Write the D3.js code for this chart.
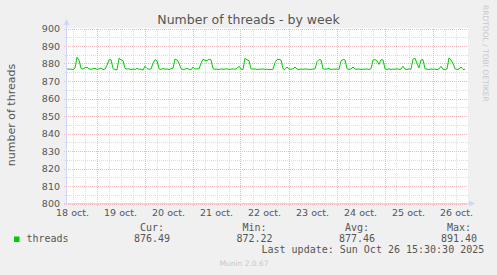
<!DOCTYPE html>
<html>
<head>
<meta charset="utf-8">
<script src="https://cdn.jsdelivr.net/npm/d3@7"></script>
<style>
  body { margin: 0; background: #F0F0F0; }
  svg { display: block; }
  text { font-family: "DejaVu Sans", sans-serif; }
  .mono { font-family: "DejaVu Sans Mono", monospace; }
</style>
</head>
<body>
<svg id="chart" width="497" height="275"></svg>
<script>
// hourly samples, first one at 18 oct. 09:15 (UTC), one every hour
const startTime = Date.UTC(2025, 9, 18, 9, 15);
const endTime = Date.UTC(2025, 9, 26, 17, 45);
const stepHours = 1;

const threads = [
  877.0, 876.7, 876.8, 876.6, 877.4, 883.6, 882.0, 877.2, 876.8, 877.6,
  877.8, 876.9, 876.7, 877.0, 877.3, 876.6, 876.9, 877.4, 876.5, 876.8,
  879.0, 882.1, 882.2, 877.1, 876.6, 876.4, 883.0, 882.1, 881.6, 877.2,
  876.8, 877.0, 876.5, 876.9, 876.6, 877.2, 876.7, 876.8, 876.2, 878.4,
  877.1, 876.7, 876.9, 880.0, 882.1, 881.6, 877.0, 876.6, 877.1, 876.8,
  876.9, 876.5, 877.0, 877.3, 882.5, 882.0, 880.2, 877.0, 876.6, 876.8,
  877.2, 876.7, 876.4, 878.0, 876.8, 877.0, 876.9, 880.0, 882.5, 881.8,
  881.6, 882.5, 882.0, 877.1, 876.7, 876.8, 876.6, 876.9, 876.7, 876.8,
  877.0, 876.6, 876.8, 876.9, 876.7, 877.2, 878.4, 876.8, 876.6, 883.0,
  882.1, 881.6, 877.0, 876.8, 876.9, 876.6, 876.8, 876.7, 876.9, 876.6,
  876.8, 876.5, 876.6, 876.7, 880.5, 882.3, 882.3, 882.0, 877.0, 876.6,
  878.0, 876.8, 876.7, 876.9, 878.0, 876.8, 876.6, 876.8, 876.7, 876.9,
  876.8, 876.6, 876.7, 876.8, 876.9, 881.0, 882.2, 882.0, 877.0, 876.7,
  876.9, 877.2, 876.6, 876.8, 876.7, 876.9, 876.6, 881.5, 882.2, 882.0,
  877.0, 876.6, 876.9, 878.0, 876.8, 876.7, 876.9, 876.6, 876.8, 876.7,
  876.9, 876.6, 877.0, 882.0, 882.2, 881.5, 879.5, 882.2, 882.0, 877.0,
  876.7, 876.9, 876.6, 876.8, 876.7, 877.0, 876.6, 876.9, 878.4, 876.8,
  876.6, 876.9, 876.7, 882.5, 883.0, 880.0, 877.5, 882.0, 882.2, 877.0,
  876.8, 876.6, 876.9, 876.7, 876.8, 876.5, 876.9, 878.4, 876.7, 876.6,
  876.9, 883.2, 882.0, 880.0, 877.0, 876.6, 876.9, 878.0, 876.6, 876.7
];

const yTicks = [800, 810, 820, 830, 840, 850, 860, 870, 880, 890, 900];
const yMinor = [805, 815, 825, 835, 845, 855, 865, 875, 885, 895];

const legendHeaders = ['Cur:', 'Min:', 'Avg:', 'Max:'];
const legendValues = ['876.49', '872.22', '877.46', '891.40'];
const lastUpdate = 'Last update: Sun Oct 26 15:30:30 2025';

const svg = d3.select('#chart');
const plot = { left: 67, right: 468, top: 28.5, bottom: 203.5 };

const x = d3.scaleUtc().domain([startTime, endTime]).range([plot.left, plot.right]);
const y = d3.scaleLinear().domain([800, 900]).range([plot.bottom, plot.top]);

// canvas
svg.append('rect')
  .attr('x', plot.left).attr('y', plot.top - 0.5)
  .attr('width', plot.right - plot.left).attr('height', plot.bottom - plot.top)
  .attr('fill', '#FFFFFF');

const grid = svg.append('g').attr('shape-rendering', 'crispEdges');

// minor grid
const minorX = d3.utcHour.every(6).range(new Date(startTime), new Date(endTime));
grid.selectAll('line.vmin')
  .data(minorX.filter(d => d.getUTCHours() !== 0))
  .enter().append('line')
  .attr('x1', d => Math.round(x(d)) + 0.5).attr('x2', d => Math.round(x(d)) + 0.5)
  .attr('y1', plot.top).attr('y2', plot.bottom + 2)
  .attr('stroke', '#DCDCDC').attr('stroke-dasharray', '1,1');

grid.selectAll('line.hmin')
  .data(yMinor)
  .enter().append('line')
  .attr('x1', plot.left - 2).attr('x2', plot.right)
  .attr('y1', d => Math.round(y(d)) + 0.5).attr('y2', d => Math.round(y(d)) + 0.5)
  .attr('stroke', '#DCDCDC').attr('stroke-dasharray', '1,1');

// major grid
const days = d3.utcDay.range(new Date(startTime), new Date(endTime));
const majorColor = '#EEB8B8';
grid.selectAll('line.vmaj')
  .data(days)
  .enter().append('line')
  .attr('x1', d => Math.round(x(d)) + 0.5).attr('x2', d => Math.round(x(d)) + 0.5)
  .attr('y1', plot.top).attr('y2', plot.bottom + 3)
  .attr('stroke', majorColor).attr('stroke-dasharray', '1,1');

grid.selectAll('line.hmaj')
  .data(yTicks)
  .enter().append('line')
  .attr('x1', plot.left - 3).attr('x2', plot.right)
  .attr('y1', d => Math.round(y(d)) + 0.5).attr('y2', d => Math.round(y(d)) + 0.5)
  .attr('stroke', majorColor).attr('stroke-dasharray', '1,1');

// y labels
svg.append('g').selectAll('text')
  .data(yTicks)
  .enter().append('text')
  .attr('x', 60).attr('y', d => y(d) + 3.5)
  .attr('text-anchor', 'end')
  .attr('font-size', 9.5).attr('fill', '#555')
  .text(d => d);

// x labels at noon
const fmt = d => d.getUTCDate() + ' oct.';
svg.append('g').selectAll('text')
  .data(days.map(d => d3.utcHour.offset(d, -12)).concat([d3.utcHour.offset(days[days.length - 1], 12)]))
  .enter().append('text')
  .attr('x', d => x(d)).attr('y', 216)
  .attr('text-anchor', 'middle')
  .attr('font-size', 9.5).attr('fill', '#555')
  .text(fmt);

// axes with arrows
const axisColor = '#CFD6F8';
svg.append('line').attr('x1', plot.left - 0.5).attr('x2', plot.left - 0.5).attr('y1', plot.bottom + 2).attr('y2', 24)
  .attr('stroke', axisColor);
svg.append('path').attr('d', `M${plot.left - 3.5},25 L${plot.left - 0.5},19 L${plot.left + 2.5},25 Z`).attr('fill', axisColor);
svg.append('line').attr('x1', plot.left - 3).attr('x2', plot.right + 2).attr('y1', plot.bottom).attr('y2', plot.bottom)
  .attr('stroke', axisColor);
svg.append('path').attr('d', `M${plot.right + 1},${plot.bottom - 3} L${plot.right + 7},${plot.bottom} L${plot.right + 1},${plot.bottom + 3} Z`).attr('fill', axisColor);

// series
const line = d3.line()
  .x((d, i) => x(startTime + i * stepHours * 3600000))
  .y(d => y(d));
svg.append('path')
  .datum(threads)
  .attr('d', line)
  .attr('fill', 'none')
  .attr('stroke', '#00CC00')
  .attr('stroke-width', 1);

// title
svg.append('text')
  .attr('x', 248.5).attr('y', 24)
  .attr('text-anchor', 'middle')
  .attr('font-size', 12.5).attr('fill', '#555')
  .text('Number of threads - by week');

// y title
svg.append('text')
  .attr('transform', 'translate(15,115) rotate(-90)')
  .attr('text-anchor', 'middle')
  .attr('font-size', 11).attr('fill', '#555')
  .text('number of threads');

// watermark
svg.append('text')
  .attr('transform', 'translate(483,5) rotate(90)')
  .attr('font-size', 7.5).attr('fill', '#C8C8C8')
  .text('RRDTOOL / TOBI OETIKER');

// legend
svg.append('rect').attr('x', 14).attr('y', 236.5).attr('width', 5.5).attr('height', 5.5).attr('fill', '#00CC00');
svg.append('text').attr('class', 'mono').attr('x', 26.5).attr('y', 242)
  .attr('font-size', 10).attr('fill', '#555').text('threads');

const colStart = [134, 236.5, 339, 441];
svg.append('g').selectAll('text')
  .data(legendHeaders)
  .enter().append('text').attr('class', 'mono')
  .attr('x', (d, i) => colStart[i] + 6).attr('y', 231)
  .attr('font-size', 10).attr('fill', '#555')
  .text(d => d);
svg.append('g').selectAll('text')
  .data(legendValues)
  .enter().append('text').attr('class', 'mono')
  .attr('x', (d, i) => colStart[i]).attr('y', 242)
  .attr('font-size', 10).attr('fill', '#555')
  .text(d => d);

svg.append('text').attr('class', 'mono').attr('x', 261.5).attr('y', 253)
  .attr('font-size', 10).attr('fill', '#555').text(lastUpdate);

svg.append('text')
  .attr('x', 244).attr('y', 266)
  .attr('text-anchor', 'middle')
  .attr('font-size', 7.5).attr('fill', '#C8C8C8')
  .text('Munin 2.0.67');
</script>
</body>
</html>
